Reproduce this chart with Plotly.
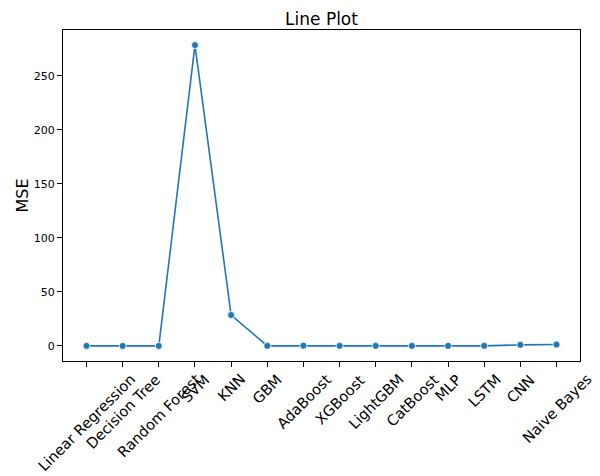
import plotly.graph_objects as go

models = ["Linear Regression", "Decision Tree", "Random Forest", "SVM", "KNN", "GBM",
          "AdaBoost", "XGBoost", "LightGBM", "CatBoost", "MLP", "LSTM", "CNN", "Naive Bayes"]
mse = [0.05, 0.05, 0.05, 278.6, 28.6, 0.1, 0.3, 0.1, 0.1, 0.1, 0.1, 0.1, 1.0, 1.3]

x_idx = list(range(len(models)))
FONT = "DejaVu Sans, sans-serif"

fig = go.Figure()
fig.add_trace(go.Scatter(
    x=x_idx, y=mse, mode="lines+markers",
    line=dict(color="#1f77b4", width=1.6),
    marker=dict(size=7, color="#1f77b4", line=dict(color="white", width=0.8)),
    showlegend=False,
))

annotations = [
    dict(x=i, y=0, xref="x", yref="paper", text=m, showarrow=False, textangle=-45,
         xanchor="center", yanchor="top", yshift=-7,
         font=dict(family=FONT, size=14.6, color="black"))
    for i, m in zip(x_idx, models)
]
annotations.append(dict(
    x=0, y=0.5, xref="paper", yref="paper", text="MSE", showarrow=False, textangle=-90,
    xanchor="center", yanchor="middle", xshift=-41,
    font=dict(family=FONT, size=16, color="black"),
))

ymax = max(mse)
pad = ymax * 0.05
xpad = (len(models) - 1) * 0.05

# the page body has an 8px default margin, so the figure starts 8px in
fig.update_layout(
    width=592, height=468,
    paper_bgcolor="white", plot_bgcolor="white",
    margin=dict(l=55, r=20, t=22, b=115),
    title=dict(text="Line Plot", x=0.5, xref="paper", xanchor="center",
               y=1, yref="paper", yanchor="bottom", pad=dict(b=5),
               font=dict(family=FONT, size=17, color="black")),
    font=dict(family=FONT, color="black"),
    annotations=annotations,
)
fig.update_xaxes(
    range=[-xpad, len(models) - 1 + xpad], tickvals=x_idx, ticktext=[""] * len(models),
    showgrid=False, zeroline=False, showline=True, linecolor="black", linewidth=1,
    mirror=True, ticks="outside", ticklen=5, tickcolor="black", automargin=False,
)
fig.update_yaxes(
    range=[-pad, ymax + pad], tickvals=[0, 50, 100, 150, 200, 250],
    showgrid=False, zeroline=False, showline=True, linecolor="black", linewidth=1,
    mirror=True, ticks="outside", ticklen=5, tickcolor="black", automargin=False,
    tickfont=dict(family=FONT, size=11, color="black"),
)

fig.write_html("out.html")
